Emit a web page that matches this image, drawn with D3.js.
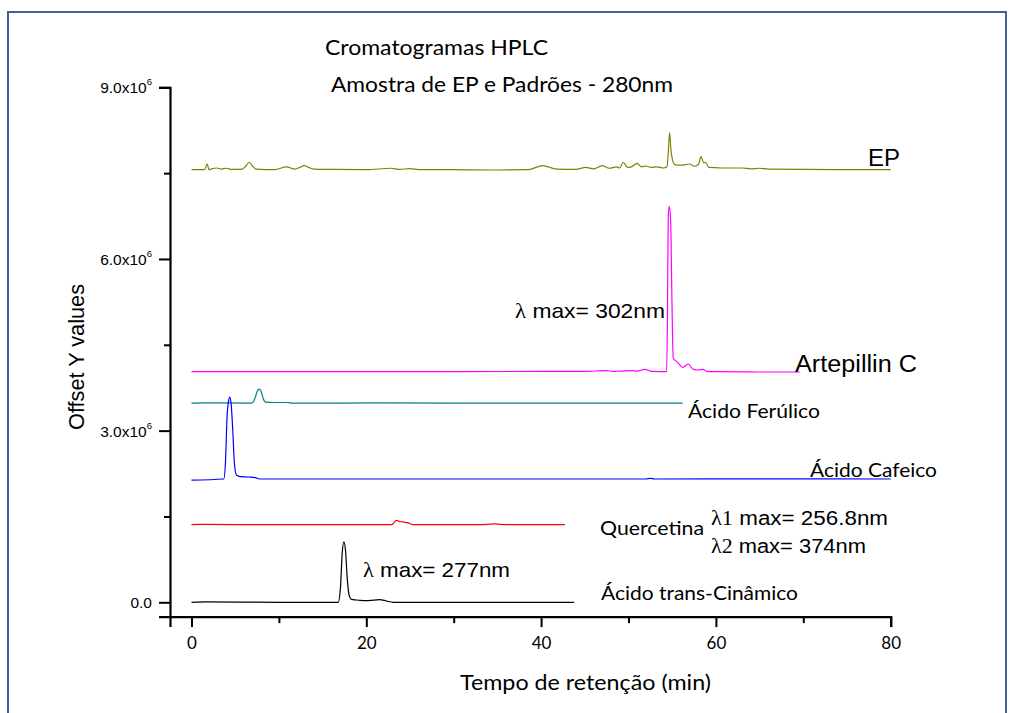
<!DOCTYPE html>
<html><head><meta charset="utf-8">
<script src="https://cdn.jsdelivr.net/npm/d3@7"></script>
<style>body{margin:0;background:#fff}svg{display:block}</style>
</head><body>
<svg id="c" width="1010" height="713"></svg>
<script>
// ---------- data (y in units of 10^6) ----------
const xTicks = [0, 10, 20, 30, 40, 50, 60, 70, 80];
const xTickLabels = ["0", "", "20", "", "40", "", "60", "", "80"];
const yTicks = [0, 1.5, 3, 4.5, 6, 7.5, 9];
const yTickLabels = ["0.0", "", "3.0x10", "", "6.0x10", "", "9.0x10"];
const yTickExp = ["", "", "6", "", "6", "", "6"];

const seriesNames = ["EP", "Artepillin C", "Ácido Ferúlico", "Ácido Cafeico", "Quercetina", "Ácido trans-Cinâmico"];
const seriesOffsets = [7.56, 4.03, 3.48, 2.155, 1.357, 0];

const epTime   = [0,1.5,1.8,2.0,2.3,2.9,3.4,4.0,4.6,5.8,6.2,6.6,7.0,7.4,9.5,10.9,11.8,12.4,12.9,13.4,14.0,16,20,22.8,23.8,25.0,26,30,35,38.5,39.6,40.2,40.8,41.8,44,45.1,46,47.0,47.8,48.6,49.0,49.4,49.9,50.3,51.0,51.5,52.0,52.6,53.2,54.0,54.4,54.55,54.7,54.85,55.0,55.3,56.0,57.0,57.5,58.0,58.3,58.6,58.8,59.2,60,61,63,64,64.9,66,70,75,80];
const epSignal = [0,0,0.10,0.0,0.015,0.03,0.01,0.025,0.005,0.01,0.06,0.13,0.06,0.01,0.0,0.05,0.01,0.04,0.07,0.04,0.01,0.005,0.0,0.025,0.005,0.02,0.003,0,-0.005,0.0,0.05,0.07,0.05,0.01,0.005,0.04,0.015,0.07,0.025,0.05,0.03,0.13,0.04,0.05,0.11,0.05,0.065,0.04,0.05,0.03,0.05,0.3,0.65,0.35,0.2,0.09,0.08,0.1,0.06,0.09,0.23,0.12,0.13,0.04,0.035,0.03,0.03,0.015,0.025,0.01,0.005,0.0,0.0];

const artTime   = [0,10,20,30,40,45,47.5,48.2,49,50.5,51.0,51.88,52.5,53,54.2,54.36,54.45,54.55,54.66,54.82,54.97,55.12,55.43,55.70,56.19,56.84,57.41,57.98,58.55,58.94,60,65,69.6];
const artSignal = [0,0,0.0,0,0.005,0.005,0.02,0.005,0.01,0.02,0.01,0.04,0.01,0.005,0.0,0.0,0.85,2.71,2.89,2.66,1.25,0.23,0.19,0.15,0.076,0.134,0.04,0.03,0.04,0.005,0,-0.005,-0.005];

const ferTime   = [0,1.3,6.87,7.25,7.52,7.75,7.98,8.2,8.5,9.35,10.9,11.6,21.2,30,40,50,56.2];
const ferSignal = [0,0.005,0,0.08,0.21,0.245,0.2,0.08,0.017,0.012,0.012,0,0.004,0,0,0,0];

const cafTime   = [0,3.69,3.88,4.07,4.26,4.38,4.53,4.72,4.91,5.14,5.6,6.55,7.3,7.8,20,40,52,52.5,53,66,80];
const cafSignal = [-0.02,0,0.27,1.09,1.38,1.43,1.32,0.86,0.27,0.07,0.04,0.035,0.023,0,0,0,0,0.012,0,0.003,0];

const queTime   = [0,1.0,10,22.92,23.19,23.46,23.72,24.22,24.79,25.36,33,34.7,36,42.73];
const queSignal = [0,0.004,0,0,0.04,0.076,0.058,0.047,0.03,0,0,0.012,0,0];

const cinTime   = [0,1.7,10,16.78,17.05,17.24,17.43,17.62,17.81,18.04,18.31,19.26,20.22,21.55,22.3,23.07,43.79];
const cinSignal = [0,0.008,0,0,0.27,0.85,1.055,0.91,0.44,0.12,0.052,0.035,0.03,0.047,0.023,0,0];

const seriesTimes   = [epTime, artTime, ferTime, cafTime, queTime, cinTime];
const seriesSignals = [epSignal, artSignal, ferSignal, cafSignal, queSignal, cinSignal];

// ---------- styles ----------
const seriesColors = ["#808000", "#ff00ff", "#008080", "#0000ff", "#ff0000", "#000000"];
const SANS = "'Liberation Sans', Arial, sans-serif";
const CAL = "Lato, 'Open Sans', sans-serif";
const SERIF = "'Liberation Serif', 'Times New Roman', serif";

const svg = d3.select("#c");

// frame
svg.append("rect").attr("x", 8).attr("y", 12).attr("width", 998).attr("height", 730)
  .attr("fill", "none").attr("stroke", "#3f6394").attr("stroke-width", 2);

const x = d3.scaleLinear().domain([-2.46, 80]).range([170, 890.7]);
const y = d3.scaleLinear().domain([-0.25, 9]).range([616.6, 87.3]);

// traces
const line = d3.line().curve(d3.curveMonotoneX);
seriesTimes.forEach((ts, i) => {
  const pts = ts.map((t, k) => [x(t), y(seriesSignals[i][k] + seriesOffsets[i])]);
  svg.append("path").attr("d", line(pts)).attr("fill", "none")
    .attr("stroke", seriesColors[i]).attr("stroke-width", 1.2).attr("stroke-linejoin", "round");
});

// x axis
const gx = svg.append("g").attr("transform", "translate(0,616.6)")
  .call(d3.axisBottom(x).tickValues(xTicks).tickSizeOuter(0).tickSize(10.5)
    .tickFormat((d, i) => xTickLabels[i]));
gx.select(".domain").attr("stroke-width", 2.2);
gx.selectAll(".tick line").attr("stroke-width", 2).attr("y2", (d, i) => xTickLabels[i] ? 10.5 : 6.5);
gx.selectAll(".tick text").attr("font-family", CAL).attr("font-size", 17).attr("fill", "#000")
  .attr("y", 20);

// y axis
const gy = svg.append("g").attr("transform", "translate(170,0)")
  .call(d3.axisLeft(y).tickValues(yTicks).tickSizeOuter(0).tickSize(11).tickFormat(""));
gy.select(".domain").attr("stroke-width", 2.2);
gy.selectAll(".tick line").attr("stroke-width", 2).attr("x2", (d, i) => yTickLabels[i] ? -11 : -6);
yTicks.forEach((v, i) => {
  if (!yTickLabels[i]) return;
  const t = svg.append("text").attr("x", 152).attr("y", y(v) + 6).attr("text-anchor", "end")
    .attr("font-family", SANS).attr("font-size", 15.5).attr("fill", "#000");
  t.append("tspan").text(yTickLabels[i]);
  if (yTickExp[i]) t.append("tspan").attr("font-size", 9.5).attr("dy", -8).text(yTickExp[i]);
});

function label(parts, px, py, opts) {
  const t = svg.append("text").attr("x", px).attr("y", py).attr("fill", "#000")
    .attr("text-anchor", opts.anchor || "start");
  if (opts.rotate) t.attr("transform", `rotate(${opts.rotate},${px},${py})`);
  if (opts.len) t.attr("textLength", opts.len).attr("lengthAdjust", "spacingAndGlyphs");
  parts.forEach(p => t.append("tspan").attr("font-family", p[1] || opts.font)
    .attr("font-size", opts.size).text(p[0]));
  return t;
}
// axis titles
label([["Offset Y values"]], 84, 357, {font: SANS, size: 21.5, anchor: "middle", rotate: -90, len: 146});
label([["Tempo de retenção (min)"]], 460, 690, {font: CAL, size: 22, len: 251});

// titles
label([["Cromatogramas HPLC"]], 325, 55, {font: CAL, size: 22, len: 223});
label([["Amostra de EP e Padrões - 280nm"]], 331, 92, {font: CAL, size: 22, len: 342});

// series labels
label([[seriesNames[0]]], 868, 166, {font: SANS, size: 23, len: 32});
label([[seriesNames[1]]], 795, 372, {font: SANS, size: 23, len: 122});
label([[seriesNames[2]]], 688, 418, {font: CAL, size: 20, len: 132});
label([[seriesNames[3]]], 810, 477, {font: CAL, size: 20, len: 127});
label([[seriesNames[4]]], 600, 535, {font: CAL, size: 20, len: 104});
label([[seriesNames[5]]], 601, 600, {font: CAL, size: 20, len: 197});

// lambda annotations
label([["λ", SERIF], [" max= 302nm"]], 515, 318, {font: SANS, size: 21, len: 150});
label([["λ", SERIF], [" max= 277nm"]], 363, 577, {font: SANS, size: 21, len: 147});
label([["λ1", SERIF], [" max= 256.8nm"]], 711, 525, {font: SANS, size: 20, len: 177});
label([["λ2", SERIF], [" max= 374nm"]], 711, 553, {font: SANS, size: 20, len: 155});
</script>
</body></html>
